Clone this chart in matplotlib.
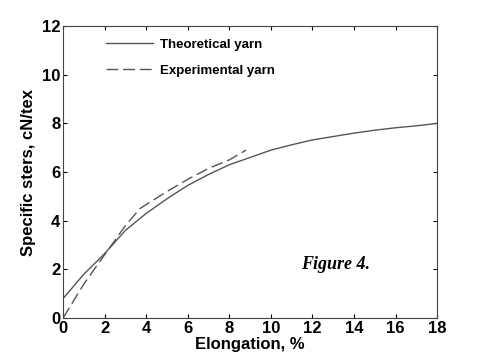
import matplotlib
matplotlib.use("Agg")
import matplotlib.pyplot as plt

theo_x = [0, 1, 2, 3, 4, 5, 6, 7, 8, 9, 10, 11, 12, 13, 14, 15, 16, 17, 18]
theo_y = [0.8, 1.8, 2.65, 3.6, 4.3, 4.9, 5.45, 5.9, 6.3, 6.6, 6.9, 7.12, 7.32, 7.46, 7.6, 7.72, 7.82, 7.9, 8.0]
exp_x = [0, 1, 2, 3, 3.7, 5, 6, 7, 8, 8.8]
exp_y = [0, 1.4, 2.6, 3.8, 4.5, 5.2, 5.7, 6.15, 6.5, 6.9]
xticks = [0, 2, 4, 6, 8, 10, 12, 14, 16, 18]
yticks = [0, 2, 4, 6, 8, 10, 12]

plt.rcParams['font.family'] = ['Liberation Sans', 'DejaVu Sans']
plt.rcParams['font.weight'] = 'bold'

fig = plt.figure(figsize=(4.82, 3.58), dpi=100)
ax = fig.add_axes([0.131, 0.112, 0.776, 0.815])
col = '#555555'
ax.plot(theo_x, theo_y, color=col, lw=1.0, label='Theoretical yarn')
ax.plot(exp_x, exp_y, color=col, lw=1.0, dashes=(8.5, 3.5), label='Experimental yarn')
ax.set_xlim(0, 18)
ax.set_ylim(0, 12)
ax.set_xticks(xticks)
ax.set_yticks(yticks)
ax.tick_params(direction='in', top=True, right=True, length=3, width=0.8, labelsize=12, pad=2, colors='black')
for s in ax.spines.values():
    s.set_linewidth(0.8)
    s.set_color('#444444')
ax.set_xlabel('Elongation, %', fontsize=12, fontweight='bold', labelpad=1)
ax.set_ylabel('Specific sters, cN/tex', fontsize=12, fontweight='bold', labelpad=4)
leg = ax.legend(loc='upper left', bbox_to_anchor=(0.082, 0.998), frameon=False,
                handlelength=3.6, handletextpad=0.5, labelspacing=1.05,
                prop={'size': 9.5, 'weight': 'bold'})
ax.text(11.45, 2.2, 'Figure 4.', fontsize=13, fontweight='bold', fontstyle='italic',
        family=['Liberation Serif', 'DejaVu Serif'], va='center', ha='left')
fig.savefig('out.png', dpi=100)
